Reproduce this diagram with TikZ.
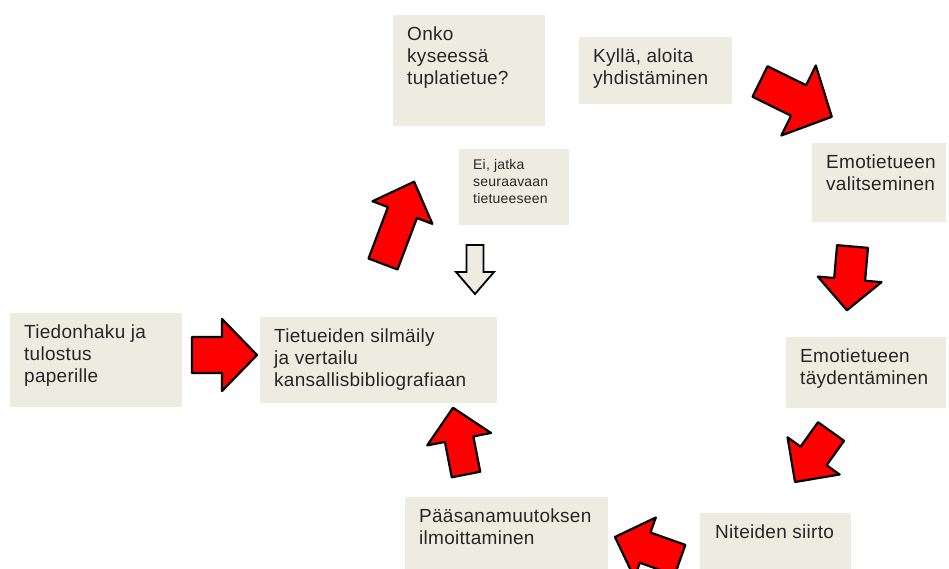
\documentclass[tikz,border=0pt]{standalone}
\usepackage{calc}
\usepackage{fontspec}
\setmainfont[LetterSpace=1.5]{Liberation Sans}
\definecolor{boxfill}{HTML}{EEECE1}
\definecolor{txtcol}{HTML}{262626}
\tikzset{
  box/.style={fill=boxfill, draw=none, anchor=north west, inner xsep=14pt, inner ysep=12pt,
    text=txtcol, font=\fontsize{19}{22}\selectfont},
  smallbox/.style={box, inner ysep=10pt, font=\fontsize{14}{17}\selectfont},
  redarrow/.style={fill=red, draw=black, line width=2.2pt, line join=round},
  hollowarrow/.style={fill=boxfill, draw=black, line width=1.8pt, line join=miter}
}
% style, tail x, tail y, angle, length, shaft half width, head half width, head length
\newcommand{\blockarr}[8]{%
  \draw[#1, shift={(#2,#3)}, rotate=#4]
    (0,-#6) -- ({#5-#8},-#6) -- ({#5-#8},-#7) -- (#5,0) -- ({#5-#8},#7) -- ({#5-#8},#6) -- (0,#6) -- cycle;}
\begin{document}
\begin{tikzpicture}[x=1pt,y=-1pt]
\useasboundingbox (0,0) rectangle (949,569);
\clip (0,0) rectangle (949,569);

\node[box] (onko) at (393,15) {\parbox[t][111pt-24pt][t]{152pt-28pt}{\mbox{Onko}\\\mbox{kyseessä}\\\mbox{tuplatietue?}}};
\node[box] (kylla) at (579,37) {\parbox[t][67pt-24pt][t]{153pt-28pt}{\mbox{Kyllä, aloita}\\\mbox{yhdistäminen}}};
\node[smallbox] (ei) at (459,149) {\parbox[t][76pt-20pt][t]{110pt-28pt}{\mbox{Ei, jatka}\\\mbox{seuraavaan}\\\mbox{tietueeseen}}};
\node[box] (valit) at (812,143) {\parbox[t][79pt-24pt][t]{134pt-28pt}{\mbox{Emotietueen}\\\mbox{valitseminen}}};
\node[box] (tayd) at (786,337) {\parbox[t][71pt-24pt][t]{160pt-28pt}{\mbox{Emotietueen}\\\mbox{täydentäminen}}};
\node[box] (tiedon) at (10,313) {\parbox[t][94pt-24pt][t]{172pt-28pt}{\mbox{Tiedonhaku ja}\\\mbox{tulostus}\\\mbox{paperille}}};
\node[box] (tietue) at (260,317) {\parbox[t][86pt-24pt][t]{237pt-28pt}{\mbox{Tietueiden silmäily}\\\mbox{ja vertailu}\\\mbox{kansallisbibliografiaan}}};
\node[box] (paasana) at (405,497) {\parbox[t][90pt-24pt][t]{203pt-28pt}{\mbox{Pääsanamuutoksen}\\\mbox{ilmoittaminen}}};
\node[box, inner xsep=15pt] (nite) at (700,513) {\parbox[t][80pt-24pt][t]{151pt-30pt}{\mbox{Niteiden siirto}}};

\blockarr{redarrow}{192}{355}{0}{65}{18}{36}{35}
\blockarr{redarrow}{383}{264}{69.3}{88}{15.5}{32}{33}
\blockarr{hollowarrow}{475}{245}{-90}{49}{8.5}{19}{22}
\blockarr{redarrow}{760}{81.5}{-26.2}{80}{17}{39}{37}
\blockarr{redarrow}{852.5}{246.5}{-95}{64}{15.5}{32}{31}
\blockarr{redarrow}{831}{431.5}{-125.5}{62}{16}{32}{32}
\blockarr{redarrow}{680}{560}{160.5}{69}{16}{32}{32}
\blockarr{redarrow}{466}{474.5}{101}{68}{14.5}{32.5}{32}
\end{tikzpicture}
\end{document}
